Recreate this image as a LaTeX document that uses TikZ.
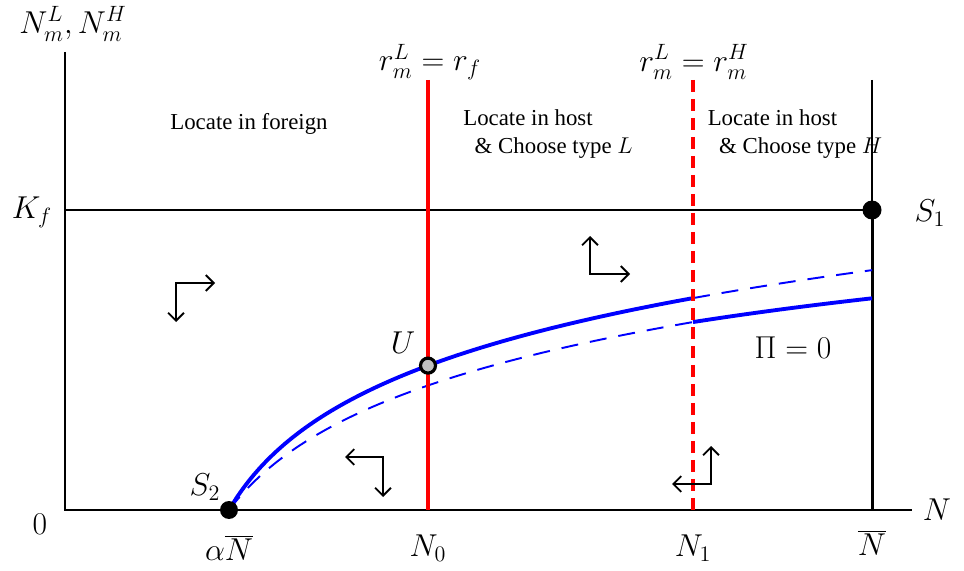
\RequirePackage{fix-cm}
\documentclass[tikz,border=0pt]{standalone}
\usepackage{fontspec}
\setmainfont{Liberation Serif}
\usetikzlibrary{arrows.meta}
\begin{document}
\begin{tikzpicture}[x=0.02cm,y=-0.02cm]
			% Styles
			\tikzstyle{axe}=[line width=1.7pt]
			\tikzstyle{fine}=[line width=0.6pt]
			\tikzstyle{seuil}=[red,line width=2.8pt]
			\tikzstyle{seuilpointille}=[red,line width=2.1pt,dash pattern=on 0.24cm off 0.14cm]
			\tikzstyle{courbe}=[blue,line width=2.2pt]
			\tikzstyle{courbepointille}=[blue,line width=1.1pt,dash pattern=on 0.34cm off 0.24cm]
			\tikzstyle{phase}=[<->,>={Straight Barb[length=4.5pt,width=9pt]},line width=1.1pt]
			\tikzstyle{etiquette}=[font=\fontsize{18}{20}\selectfont]
			\tikzstyle{texte}=[font=\fontsize{13}{16}\selectfont,align=left]
			\tikzstyle{point}=[circle,fill=black,inner sep=0pt,minimum size=0.38cm]
			\tikzstyle{pointU}=[circle,fill=black!25,draw=black,line width=1.8pt,inner sep=0pt,minimum size=0.3cm]
			% Dimensions
			\def\XA{229}
			\def\XZero{428}
			\def\XUn{693}
			\def\XBarre{872}
			\def\YBas{510}
			\def\YKf{210}
			\def\YHaut{80}
			\useasboundingbox (0,0) rectangle (964,571);
			% Coordonnees
			\coordinate (O) at (65,\YBas);
			\coordinate (Xfin) at (912,\YBas);
			\coordinate (Yfin) at (65,52);
			\coordinate (KfG) at (65,\YKf);
			\coordinate (s1) at (\XBarre,\YKf);
			\coordinate (s2) at (\XA,\YBas);
			\coordinate (u) at (\XZero,365.6);
			\coordinate (NbHaut) at (\XBarre,\YHaut);
			\coordinate (NbBas) at (\XBarre,\YBas);
			\coordinate (N0Haut) at (\XZero,\YHaut);
			\coordinate (N0Bas) at (\XZero,\YBas);
			\coordinate (N1Haut) at (\XUn,\YHaut);
			\coordinate (N1Bas) at (\XUn,\YBas);
			% Axes et droites
			\draw[axe] (Yfin) -- (O) -- (Xfin);
			\draw[fine] (KfG) -- (s1);
			\draw[fine] (NbHaut) -- (s1);
			\draw[axe] (s1) -- (NbBas);
			% Courbes
			\draw[courbepointille] plot[domain=\XA:\XUn,samples=60,smooth] (\x,{\YBas-92.5*ln(1+(\x-\XA)/70)});
			\draw[courbepointille] plot[domain=\XUn:\XBarre,samples=30,smooth] (\x,{\YBas-94.4*ln(1+(\x-\XA)/55)});
			\draw[courbe] plot[domain=\XA:\XUn,samples=60,smooth] (\x,{\YBas-94.4*ln(1+(\x-\XA)/55)});
			\draw[courbe] plot[domain=\XUn:\XBarre,samples=30,smooth] (\x,{\YBas-92.5*ln(1+(\x-\XA)/70)+3*(\x-\XUn)/179});
			\draw[seuil] (N0Haut) -- (N0Bas);
			\draw[seuilpointille] (N1Haut) -- (N1Bas);
			% Points
			\node[point] (S1) at (s1) {};
			\node[point,minimum size=0.36cm] (S2) at (s2) {};
			\node[pointU] (U) at (u) {};
			% Etiquettes
			\node[etiquette] (NmLH) at (73,24) {$N_m^L,N_m^H$};
			\node[etiquette] (Kf) at (32,212) {$K_f$};
			\node[etiquette] (zero) at (40,524) {$0$};
			\node[etiquette] (aNb) at (\XA,548) {$\alpha\overline{N}$};
			\node[etiquette] (N0) at (\XZero,548) {$N_0$};
			\node[etiquette] (N1) at (\XUn,548) {$N_1$};
			\node[etiquette] (Nb) at (\XBarre,543) {$\overline{N}$};
			\node[etiquette] (N) at (937,510) {$N$};
			\node[etiquette] (S1lab) at (930,213) {$S_1$};
			\node[etiquette] (S2lab) at (205,487) {$S_2$};
			\node[etiquette] (Ulab) at (403,343) {$U$};
			\node[etiquette] (Pi) at (793,348) {$\Pi = 0$};
			\node[etiquette] (rf) at (430,62) {$r_m^L = r_f$};
			\node[etiquette] (rH) at (694,62) {$r_m^L = r_m^H$};
			\node[texte] (etranger) at (249,124) {Locate in foreign};
			\node[texte] (hoteL) at (548,134) {Locate in host\\\hspace{0.5em}\& Choose type $L$};
			\node[texte] (hoteH) at (795,134) {Locate in host\\\hspace{0.5em}\& Choose type $H$};
			% Fleches de phase
			\coordinate (p1c) at (176,283); \coordinate (p1a) at (215,283); \coordinate (p1b) at (176,322);
			\coordinate (p2c) at (383,457); \coordinate (p2a) at (345,457); \coordinate (p2b) at (383,497);
			\coordinate (p3c) at (590,274); \coordinate (p3a) at (590,236); \coordinate (p3b) at (630,274);
			\coordinate (p4c) at (711,484); \coordinate (p4a) at (711,446); \coordinate (p4b) at (672,484);
			\draw[phase] (p1a) -- (p1c) -- (p1b);
			\draw[phase] (p2a) -- (p2c) -- (p2b);
			\draw[phase] (p3a) -- (p3c) -- (p3b);
			\draw[phase] (p4a) -- (p4c) -- (p4b);
		\end{tikzpicture}
\end{document}
